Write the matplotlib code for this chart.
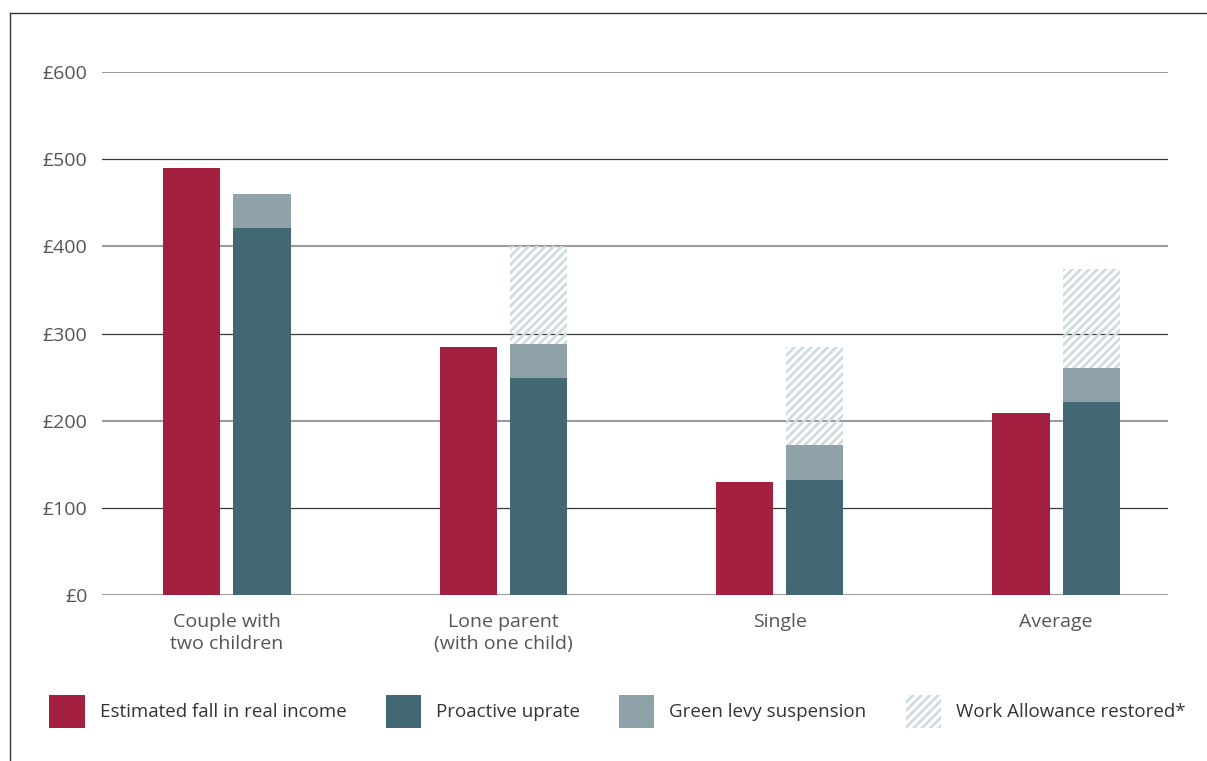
import matplotlib
matplotlib.use("Agg")
import matplotlib.pyplot as plt
from matplotlib.patches import Patch
from matplotlib.lines import Line2D

plt.rcParams['font.family'] = ['Open Sans', 'DejaVu Sans']
plt.rcParams['hatch.linewidth'] = 2.0

groups = ["Couple with\ntwo children", "Lone parent\n(with one child)", "Single", "Average"]
fall_real_income = [490, 285, 130, 209]
proactive_uprate = [421, 249, 132, 222]
green_levy = [39, 39, 40, 39]
work_allowance = [0, 112, 112, 113]
y_ticks = [0, 100, 200, 300, 400, 500, 600]
y_labels = ["£0", "£100", "£200", "£300", "£400", "£500", "£600"]

red = "#A31F3F"
teal = "#426873"
levy = "#8FA2A9"
hatch_col = "#D0DAE1"

fig = plt.figure(figsize=(12.07, 7.61), dpi=100)
ax = fig.add_axes([0.0845, 0.2181, 0.8832, 0.6873])

# gridlines: alternating light/dark
for v in y_ticks:
    if v % 200 == 0:
        ax.axhline(v, color="#9B9B9B", lw=1.5, zorder=0)
    else:
        ax.axhline(v, color="#3A3A3A", lw=0.9, zorder=0)

x = list(range(len(groups)))
w = 0.207
off = 0.127
xr = [i - off for i in x]
xt = [i + off for i in x]

ax.bar(xr, fall_real_income, width=w, color=red, zorder=2)
ax.bar(xt, proactive_uprate, width=w, color=teal, zorder=2)
ax.bar(xt, green_levy, width=w, bottom=proactive_uprate, color=levy, zorder=2)
levy_top = [a + b for a, b in zip(proactive_uprate, green_levy)]
ax.bar(xt, work_allowance, width=w, bottom=levy_top, facecolor="none",
       edgecolor=hatch_col, hatch="////", linewidth=0, zorder=2)

ax.set_xlim(-0.452, 3.405)
ax.set_ylim(0, 600)
ax.set_yticks(y_ticks)
ax.set_yticklabels(y_labels)
ax.set_xticks(x)
ax.set_xticklabels(groups, linespacing=1.3)
ax.tick_params(axis="both", length=0, labelsize=14, labelcolor="#555555")
ax.tick_params(axis="y", pad=10.5)
ax.tick_params(axis="x", pad=13)
for s in ax.spines.values():
    s.set_visible(False)

handles = [Patch(facecolor=red), Patch(facecolor=teal), Patch(facecolor=levy),
           Patch(facecolor="none", edgecolor=hatch_col, hatch="////", linewidth=0)]
labels = ["Estimated fall in real income", "Proactive uprate", "Green levy suspension",
          "Work Allowance restored*"]
fig.legend(handles, labels, loc="center left", bbox_to_anchor=(0.041, 0.065), ncol=4,
           frameon=False, fontsize=13.5, handlelength=1.87, handleheight=2.3,
           handletextpad=0.8, columnspacing=2.1, labelcolor="#333333",
           borderaxespad=0, borderpad=0)

# outer frame lines (top and left)
fig.add_artist(Line2D([10 / 1207, 1.0], [1 - 13 / 761, 1 - 13 / 761], color="#333333", lw=1.0))
fig.add_artist(Line2D([10 / 1207, 10 / 1207], [0, 1 - 13 / 761], color="#333333", lw=1.0))

fig.savefig("out.png", dpi=100)
